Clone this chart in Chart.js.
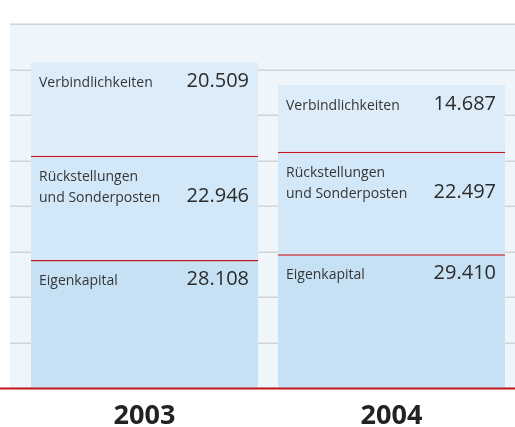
<!DOCTYPE html>
<html>
<head>
<meta charset="utf-8">
<script src="https://cdn.jsdelivr.net/npm/chart.js@4.4.1/dist/chart.umd.min.js"></script>
<style>
html,body{margin:0;padding:0;background:#fff;}
#wrap{width:515px;height:427px;position:relative;}
</style>
</head>
<body>
<div id="wrap"><canvas id="c" width="515" height="427"></canvas></div>
<script>
const years = ['2003', '2004'];
const eigenkapital = [28.108, 29.410];
const rueckstellungen = [22.946, 22.497];
const verbindlichkeiten = [20.509, 14.687];
const segmentLabels = [['Eigenkapital'], ['Rückstellungen', 'und Sonderposten'], ['Verbindlichkeiten']];
const gridValues = [0, 10, 20, 30, 40, 50, 60, 70, 80];

const FONT = '"Open Sans", "Noto Sans", sans-serif';
const RED = '#c3161f';

const bgPlugin = {
  id: 'bg',
  beforeDatasetsDraw(chart) {
    const {ctx, scales} = chart;
    const y = scales.y;
    ctx.save();
    ctx.fillStyle = '#eef6fb';
    const top = y.getPixelForValue(80);
    const bottom = y.getPixelForValue(0);
    ctx.fillRect(10, top, chart.width - 10, bottom - top);
    ctx.strokeStyle = '#d3d3d3';
    ctx.lineWidth = 1.5;
    gridValues.forEach(v => {
      const py = Math.round(y.getPixelForValue(v)) + 0.25;
      ctx.beginPath();
      ctx.moveTo(10, py);
      ctx.lineTo(chart.width, py);
      ctx.stroke();
    });
    ctx.restore();
  },
  afterDatasetsDraw(chart) {
    const {ctx, scales} = chart;
    const y = scales.y;
    ctx.save();
    chart.data.datasets.forEach((ds, di) => {
      const meta = chart.getDatasetMeta(di);
      meta.data.forEach((el, i) => {
        const left = el.x - el.width / 2;
        const right = el.x + el.width / 2;
        const top = Math.min(el.y, el.base);
        const lines = segmentLabels[di];
        ctx.fillStyle = '#363636';
        ctx.font = '14px ' + FONT;
        ctx.textAlign = 'left';
        ctx.textBaseline = 'alphabetic';
        const by = top + 25;
        lines.forEach((ln, k) => {
          ctx.fillText(ln, left + 8, by + k * 21);
        });
        const lastBase = by + (lines.length - 1) * 21;
        ctx.font = '20px ' + FONT;
        ctx.fillStyle = '#2b2b2b';
        ctx.textAlign = 'right';
        ctx.fillText(ds.data[i].toFixed(3), right - 9, lastBase);
      });
    });
    const by = y.getPixelForValue(0);
    ctx.strokeStyle = RED;
    ctx.lineWidth = 2;
    ctx.beginPath();
    ctx.moveTo(0, by + 0.5);
    ctx.lineTo(chart.width, by + 0.5);
    ctx.stroke();
    ctx.restore();
  }
};

new Chart(document.getElementById('c'), {
  type: 'bar',
  data: {
    labels: years,
    datasets: [
      {label: 'Eigenkapital', data: eigenkapital, backgroundColor: '#c6e1f4',
       borderColor: RED, borderWidth: {top: 1.5, left: 0, right: 0, bottom: 0}, borderSkipped: false},
      {label: 'Rückstellungen und Sonderposten', data: rueckstellungen, backgroundColor: '#d2e7f7',
       borderColor: RED, borderWidth: {top: 1.5, left: 0, right: 0, bottom: 0}, borderSkipped: false},
      {label: 'Verbindlichkeiten', data: verbindlichkeiten, backgroundColor: '#dcedf9', borderWidth: 0}
    ]
  },
  options: {
    responsive: false,
    animation: false,
    devicePixelRatio: 1,
    layout: {padding: {top: 24, left: 21, right: 0, bottom: 0}},
    plugins: {legend: {display: false}, tooltip: {enabled: false}},
    datasets: {bar: {categoryPercentage: 1, barPercentage: 0.919}},
    scales: {
      x: {
        stacked: true,
        grid: {display: false, drawTicks: false},
        border: {display: false},
        ticks: {color: '#222222', padding: 12, font: {family: FONT, size: 27, weight: 'bold'}},
        afterFit(scale) { scale.height = 39; }
      },
      y: {
        stacked: true,
        display: false,
        min: 0, max: 80,
        ticks: {stepSize: 10}
      }
    }
  },
  plugins: [bgPlugin]
});
</script>
</body>
</html>
